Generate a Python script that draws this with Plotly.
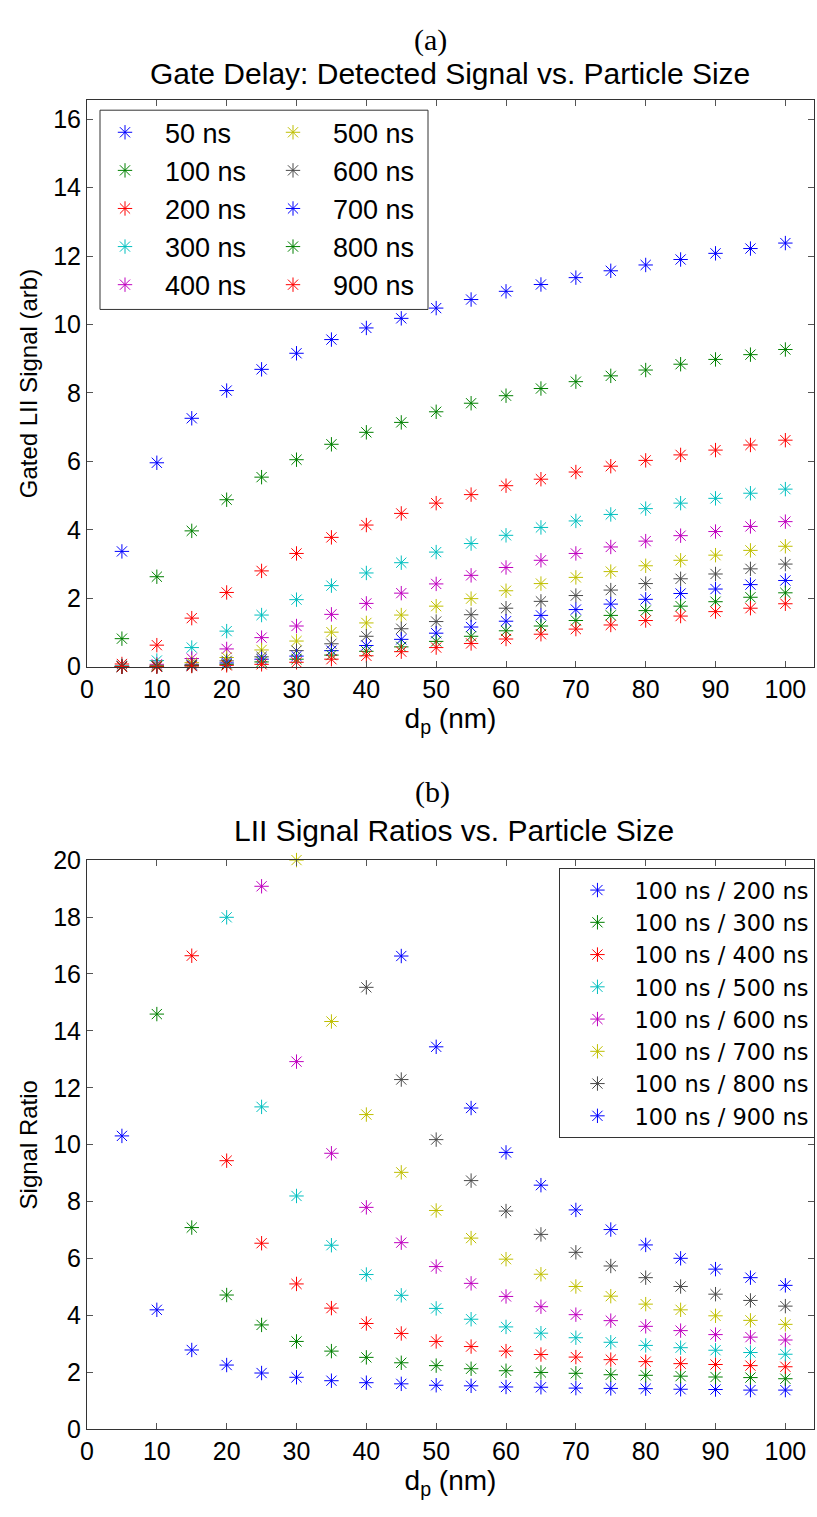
import plotly.graph_objects as go

# ---------------- data ----------------
dp = [5, 10, 15, 20, 25, 30, 35, 40, 45, 50, 55, 60, 65, 70, 75, 80, 85, 90, 95, 100]

# (a) gated LII signal for each gate delay
s50 = [3.37, 5.96, 7.26, 8.07, 8.69, 9.16, 9.56, 9.90, 10.18, 10.48, 10.73, 10.97, 11.17, 11.37, 11.57, 11.74, 11.90, 12.08, 12.22, 12.38]
s100 = [0.82, 2.63, 3.97, 4.88, 5.54, 6.05, 6.50, 6.85, 7.14, 7.45, 7.70, 7.92, 8.13, 8.33, 8.50, 8.67, 8.84, 8.98, 9.12, 9.27]
s200 = [0.08, 0.63, 1.42, 2.17, 2.80, 3.31, 3.78, 4.14, 4.48, 4.78, 5.03, 5.29, 5.48, 5.69, 5.86, 6.03, 6.19, 6.33, 6.48, 6.62]
s300 = [0.03, 0.18, 0.56, 1.04, 1.51, 1.96, 2.37, 2.74, 3.04, 3.35, 3.60, 3.84, 4.07, 4.26, 4.45, 4.62, 4.78, 4.92, 5.07, 5.19]
s400 = [0.01, 0.07, 0.24, 0.52, 0.85, 1.19, 1.53, 1.85, 2.15, 2.42, 2.67, 2.90, 3.11, 3.31, 3.50, 3.67, 3.83, 3.95, 4.10, 4.24]
s500 = [0.01, 0.04, 0.12, 0.27, 0.49, 0.75, 1.01, 1.28, 1.51, 1.77, 1.99, 2.22, 2.43, 2.61, 2.78, 2.95, 3.11, 3.26, 3.40, 3.52]
s600 = [0.00, 0.02, 0.07, 0.17, 0.29, 0.47, 0.67, 0.89, 1.11, 1.32, 1.52, 1.71, 1.91, 2.08, 2.24, 2.43, 2.57, 2.71, 2.86, 3.00]
s700 = [0.00, 0.01, 0.04, 0.11, 0.22, 0.31, 0.47, 0.62, 0.80, 0.98, 1.16, 1.33, 1.50, 1.67, 1.83, 1.97, 2.14, 2.27, 2.40, 2.52]
s800 = [0.00, 0.01, 0.03, 0.07, 0.14, 0.22, 0.34, 0.45, 0.58, 0.74, 0.89, 1.05, 1.19, 1.35, 1.50, 1.64, 1.77, 1.90, 2.03, 2.16]
s900 = [0.00, 0.00, 0.02, 0.04, 0.07, 0.13, 0.22, 0.32, 0.44, 0.56, 0.68, 0.81, 0.95, 1.10, 1.22, 1.35, 1.48, 1.61, 1.71, 1.84]

signal_names = ["50 ns", "100 ns", "200 ns", "300 ns", "400 ns",
                "500 ns", "600 ns", "700 ns", "800 ns", "900 ns"]
signals = [s50, s100, s200, s300, s400, s500, s600, s700, s800, s900]

# (b) signal ratios (points above the axis limit are not shown)
r200 = [10.31, 4.20, 2.79, 2.26, 1.98, 1.83, 1.71, 1.64, 1.60, 1.55, 1.53, 1.49, 1.48, 1.45, 1.44, 1.43, 1.41, 1.40, 1.38, 1.38]
r300 = [None, 14.59, 7.09, 4.72, 3.67, 3.09, 2.75, 2.53, 2.34, 2.24, 2.13, 2.06, 2.00, 1.97, 1.92, 1.90, 1.87, 1.84, 1.82, 1.78]
r400 = [None, None, 16.64, 9.44, 6.54, 5.11, 4.26, 3.72, 3.37, 3.09, 2.91, 2.75, 2.63, 2.54, 2.45, 2.38, 2.31, 2.28, 2.24, 2.20]
r500 = [None, None, None, 17.99, 11.33, 8.20, 6.47, 5.44, 4.71, 4.25, 3.87, 3.60, 3.38, 3.22, 3.06, 2.95, 2.87, 2.78, 2.70, 2.64]
r600 = [None, None, None, None, 19.08, 12.92, 9.70, 7.80, 6.56, 5.72, 5.13, 4.67, 4.31, 4.03, 3.82, 3.62, 3.47, 3.33, 3.24, 3.14]
r700 = [None, None, None, None, None, 20.00, 14.33, 11.06, 9.03, 7.69, 6.72, 5.98, 5.45, 5.02, 4.68, 4.40, 4.20, 3.99, 3.83, 3.69]
r800 = [None, None, None, None, None, None, None, 15.53, 12.29, 10.18, 8.74, 7.67, 6.85, 6.22, 5.74, 5.33, 5.02, 4.75, 4.53, 4.33]
r900 = [None, None, None, None, None, None, None, None, 16.63, 13.44, 11.29, 9.73, 8.58, 7.71, 7.02, 6.48, 6.01, 5.63, 5.33, 5.06]

ratio_names = ["100 ns / 200 ns", "100 ns / 300 ns", "100 ns / 400 ns", "100 ns / 500 ns",
               "100 ns / 600 ns", "100 ns / 700 ns", "100 ns / 800 ns", "100 ns / 900 ns"]
ratios = [r200, r300, r400, r500, r600, r700, r800, r900]

# MATLAB classic colour order b g r c m y k
color_cycle = ["#0000ff", "#008000", "#ff0000", "#00bfbf", "#bf00bf", "#bfbf00", "#4a4a4a"]

# ---------------- figure ----------------
W, H = 817, 1517
ML, MR = 87, 3
PW = W - ML - MR

def px_x(p):
    return (p - ML) / PW

def px_y(p):
    return 1 - p / H

SANS = "Liberation Sans, Arial, Helvetica, sans-serif"
WIDE = "DejaVu Sans, Verdana, sans-serif"
SERIF = "Liberation Serif, Times New Roman, serif"

fig = go.Figure()

for i, (name, vals) in enumerate(zip(signal_names, signals)):
    c = color_cycle[i % 7]
    fig.add_trace(go.Scatter(
        x=dp, y=vals, mode="markers", name=name,
        marker=dict(symbol="asterisk-open", size=12, color=c, line=dict(width=1, color=c)),
        xaxis="x", yaxis="y", cliponaxis=False,
        legend="legend" if i < 5 else "legend2", legendgroup="a%d" % i,
    ))

for i, (name, vals) in enumerate(zip(ratio_names, ratios)):
    c = color_cycle[i % 7]
    fig.add_trace(go.Scatter(
        x=dp, y=vals, mode="markers", name=name,
        marker=dict(symbol="asterisk-open", size=12, color=c, line=dict(width=1, color=c)),
        xaxis="x2", yaxis="y2", cliponaxis=False,
        legend="legend3", legendgroup="b%d" % i,
    ))

axis_common = dict(
    showline=True, linecolor="#333333", linewidth=1, mirror="ticks",
    ticks="inside", ticklen=6, tickcolor="#555555", tickwidth=1,
    showgrid=False, zeroline=False,
    tickfont=dict(family=SANS, size=25, color="#000000"),
)

xtitle_font = dict(family=SANS, size=28, color="#000000")
ytitle_font = dict(family=SANS, size=24, color="#000000")

fig.update_layout(
    width=W, height=H,
    margin=dict(l=ML, r=MR, t=0, b=0),
    paper_bgcolor="white", plot_bgcolor="white",
    xaxis=dict(axis_common, domain=[0, 1], range=[0, 104.1], tick0=0, dtick=10,
               anchor="y",
               title=dict(text="d<sub>p</sub> (nm)", font=xtitle_font, standoff=1)),
    yaxis=dict(axis_common, domain=[px_y(665), px_y(88)], range=[0, 16.55], tick0=0, dtick=2,
               anchor="x",
               title=dict(text="Gated LII Signal (arb)", font=ytitle_font, standoff=8)),
    xaxis2=dict(axis_common, domain=[0, 1], range=[0, 104.1], tick0=0, dtick=10,
                anchor="y2",
                title=dict(text="d<sub>p</sub> (nm)", font=xtitle_font, standoff=1)),
    yaxis2=dict(axis_common, domain=[px_y(1442), px_y(862)], range=[0, 20], tick0=0, dtick=2,
                anchor="x2",
                title=dict(text="Signal Ratio", font=ytitle_font, standoff=8)),
    legend=dict(x=px_x(85), y=px_y(96), xanchor="left", yanchor="top",
                bgcolor="rgba(0,0,0,0)", borderwidth=0, tracegroupgap=0, itemwidth=70,
                font=dict(family=SANS, size=27, color="#000000")),
    legend2=dict(x=px_x(253), y=px_y(96), xanchor="left", yanchor="top",
                 bgcolor="rgba(0,0,0,0)", borderwidth=0, tracegroupgap=0, itemwidth=70,
                 font=dict(family=SANS, size=27, color="#000000")),
    legend3=dict(x=1.002, y=px_y(870), xanchor="right", yanchor="top",
                 bgcolor="white", bordercolor="#333333", borderwidth=1, tracegroupgap=0,
                 itemwidth=64,
                 font=dict(family=WIDE, size=22.5, color="#000000")),
    shapes=[dict(type="rect", xref="paper", yref="paper",
                 x0=px_x(100), x1=px_x(428), y0=px_y(301), y1=px_y(98),
                 line=dict(color="#333333", width=1), fillcolor="white", layer="below")],
    annotations=[
        dict(text="(a)", xref="paper", yref="paper", x=px_x(430), y=px_y(26),
             showarrow=False, xanchor="center", yanchor="middle",
             font=dict(family=SERIF, size=30, color="#000000")),
        dict(text="Gate Delay: Detected Signal vs. Particle Size", xref="paper", yref="paper",
             x=px_x(450), y=px_y(61), showarrow=False, xanchor="center", yanchor="middle",
             font=dict(family=SANS, size=30, color="#000000")),
        dict(text="(b)", xref="paper", yref="paper", x=px_x(432), y=px_y(793),
             showarrow=False, xanchor="center", yanchor="middle",
             font=dict(family=SERIF, size=30, color="#000000")),
        dict(text="LII Signal Ratios vs. Particle Size", xref="paper", yref="paper",
             x=px_x(454), y=px_y(832), showarrow=False, xanchor="center", yanchor="middle",
             font=dict(family=SANS, size=30, color="#000000")),
    ],
)

fig.write_html("out.html")
